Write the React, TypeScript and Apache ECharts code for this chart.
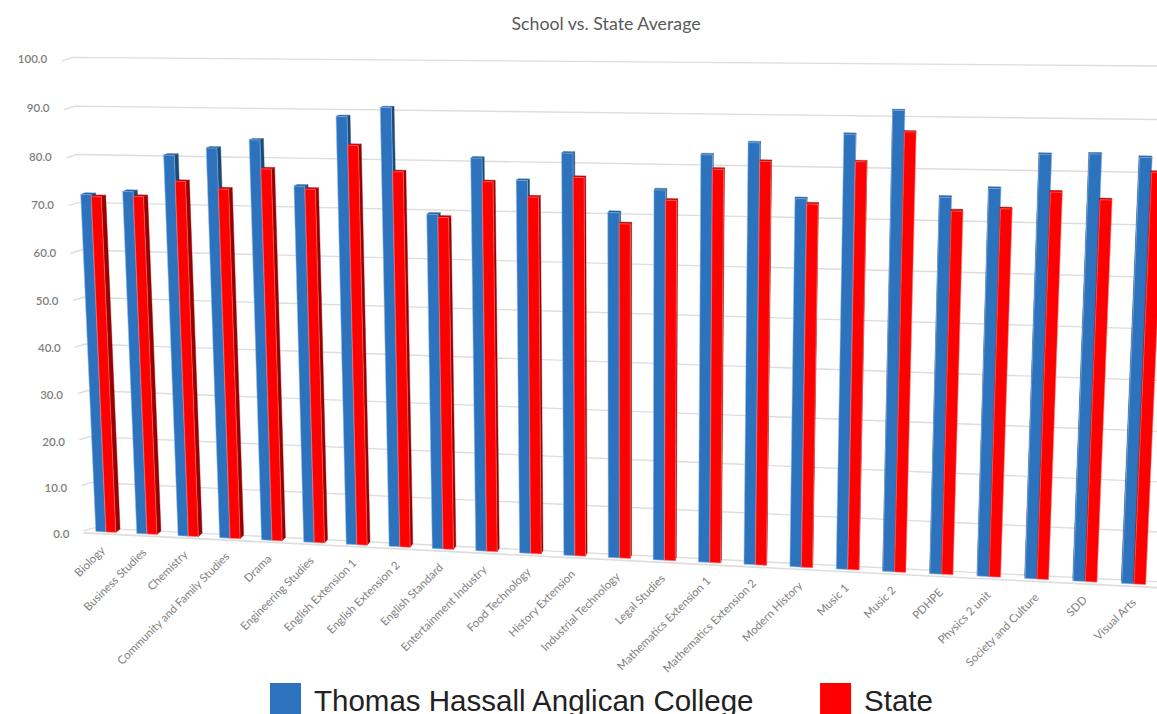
import React, { useEffect, useRef } from "react";
import * as echarts from "echarts";

const categories = ["Biology","Business Studies","Chemistry","Community and Family Studies","Drama","Engineering Studies","English Extension 1","English Extension 2","English Standard","Entertainment Industry","Food Technology","History Extension","Industrial Technology","Legal Studies","Mathematics Extension 1","Mathematics Extension 2","Modern History","Music 1","Music 2","PDHPE","Physics 2 unit","Society and Culture","SDD","Visual Arts"];
const schoolValues = [72.4,73.2,80.9,82.5,84.3,75,89.3,91.2,69.8,81.3,77,82.6,70.9,75.6,82.7,85.2,74.4,87.1,91.8,75.2,77.1,83.8,84,83.5];
const stateValues = [72,72.2,75.5,74.1,78.4,74.4,83.5,78.3,69.2,76.6,73.7,77.8,68.7,73.6,79.9,81.6,73.4,81.8,87.7,72.6,73.2,76.6,75.3,80.7];
const valueTicks = [0,10,20,30,40,50,60,70,80,90,100];
const schoolName = "Thomas Hassall Anglican College";
const stateName = "State";

// perspective: image of the bar plane's corners (first/last category, value 0/100)
const Q = [[106,532],[1134,584],[1156,69.5],[85.3,61]];
function homography() {
  const [[x0,y0],[x1,y1],[x2,y2],[x3,y3]] = Q;
  const dx1=x1-x2, dx2=x3-x2, sx=x0-x1+x2-x3, dy1=y1-y2, dy2=y3-y2, sy=y0-y1+y2-y3;
  const den=dx1*dy2-dx2*dy1;
  const g=(sx*dy2-dx2*sy)/den, h=(dx1*sy-sx*dy1)/den;
  const a=x1-x0+g*x1, b=x3-x0+h*x3, d=y1-y0+g*y1, e=y3-y0+h*y3;
  return (u:number,v:number)=>{ const w=g*u+h*v+1; return [(a*u+b*v+x0)/w,(d*u+e*v+y0)/w]; };
}
const warp = homography();
const last = categories.length-1;
function projector(api:any){
  const o=api.coord([0,0]), r=api.coord([last,0]), t=api.coord([0,100]);
  const band=api.size([1,0])[0];
  return (i:number,val:number,off=0)=>{
    const p=api.coord([i,val]);
    return warp((p[0]+off*band-o[0])/(r[0]-o[0]),(o[1]-p[1])/(o[1]-t[1]));
  };
}
const poly=(points:number[][],fill:string,stroke=fill,lineWidth=0.4)=>({type:"polygon",shape:{points},style:{fill,stroke,lineWidth},silent:true});

function barRenderer(from:number,to:number,face:string,side:string,topCol:string,halo:string){
  return (_:any,api:any)=>{
    const P=projector(api);
    const i=api.value(0), val=api.value(1);
    const a=P(i,0,from), b=P(i,0,to), c=P(i,val,to), d=P(i,val,from);
    const depth=(p:number[])=>{const k=0.0057;const kx=p[0]<860?k:k*0.35;return [p[0]+(860-p[0])*kx,p[1]+(-100-p[1])*k];};
    const children:any[]=[];
    const right=b[0]<860;
    const e1=right?b:a, e2=right?c:d;
    children.push(poly([e1,e2,depth(e2),depth(e1)],side));
    children.push(poly([d,c,depth(c),depth(d)],topCol));
    children.push(poly([a,b,c,d],face,halo,1));
    return {type:"group",children};
  };
}

const guideRenderer=(_:any,api:any)=>{
  const P=projector(api);
  const val=api.value(1);
  const shift=(p:number[])=>[p[0],p[1]-3.5];
  const style={stroke:"#dddddd",lineWidth:1.4,fill:"none"};
  const left=shift(P(0,val,-0.3)), right=shift(P(last,val,1.2));
  const tick=P(0,val,-0.55);
  const lab=P(0,val,-0.9);
  const children:any[]=[
    {type:"polyline",shape:{points:[tick,left,right]},style,silent:true},
    {type:"text",x:lab[0],y:lab[1]+3-val*0.05,silent:true,style:{text:val.toFixed(1),align:"right",verticalAlign:"middle",fill:"#7f7f7f",font:"600 11.5px Lato"}},
  ];
  if(val===0){
    const f=P(last,0,1.2);
    children.push({type:"line",shape:{x1:tick[0],y1:tick[1]+2,x2:f[0],y2:f[1]+2.5},style:{stroke:"#dddddd",lineWidth:1.6},silent:true});
  }
  return {type:"group",children};
};

const labelRenderer=(params:any,api:any)=>{
  const P=projector(api);
  const i=api.value(0);
  const p=P(i,0,-0.06+i*0.003);
  return {type:"text",x:p[0]-1,y:p[1]+16,rotation:Math.PI/4,silent:true,style:{text:categories[i],align:"right",verticalAlign:"middle",fill:"#7f7f7f",font:"11.4px Lato"}};
};

export default function App(){
  const ref=useRef<HTMLDivElement>(null);
  useEffect(()=>{
    document.body.style.margin="0";
    document.body.style.overflow="hidden";
    const chart=echarts.init(ref.current!,undefined,{renderer:"svg"});
    chart.setOption({
      animation:false,
      backgroundColor:"#ffffff",
      title:{text:"School vs. State Average",left:601,top:9,textAlign:"center",textStyle:{color:"#595959",fontSize:17.8,fontWeight:"normal",fontFamily:"Lato"}},
      legend:{left:265,top:678,itemWidth:31,itemHeight:34,itemGap:65,icon:"rect",selectedMode:false,data:[schoolName,stateName],textStyle:{fontFamily:"Liberation Sans",fontSize:29.5,color:"#222222",padding:[0,0,0,8]}},
      grid:{left:100,right:100,top:60,bottom:180},
      xAxis:{type:"category",data:categories,show:false},
      yAxis:{type:"value",min:0,max:100,interval:10,show:false},
      series:[
        {type:"custom",name:"grid",clip:false,silent:true,renderItem:guideRenderer,data:valueTicks.map(v=>[0,v]),encode:{x:0,y:1},z:1},
        {type:"custom",name:"labels",clip:false,silent:true,renderItem:labelRenderer,data:categories.map((_,i)=>[i,0]),encode:{x:0,y:1},z:1},
        {type:"custom",name:schoolName,clip:false,silent:true,itemStyle:{color:"#2d72bd"},renderItem:barRenderer(-0.25,0,"#2d72bd","#1d4a78","#25609f","rgba(150,190,235,0.55)"),data:schoolValues.map((v,i)=>[i,v]),encode:{x:0,y:1},z:2},
        {type:"custom",name:stateName,clip:false,silent:true,itemStyle:{color:"#ff0000"},renderItem:barRenderer(0,0.24,"#ff0000","#9a0000","#c80000","rgba(255,130,130,0.55)"),data:stateValues.map((v,i)=>[i,v]),encode:{x:0,y:1},z:3},
      ],
    });
    return ()=>chart.dispose();
  },[]);
  return <div ref={ref} style={{position:"fixed",left:0,top:0,width:1157,height:714}}/>;
}
